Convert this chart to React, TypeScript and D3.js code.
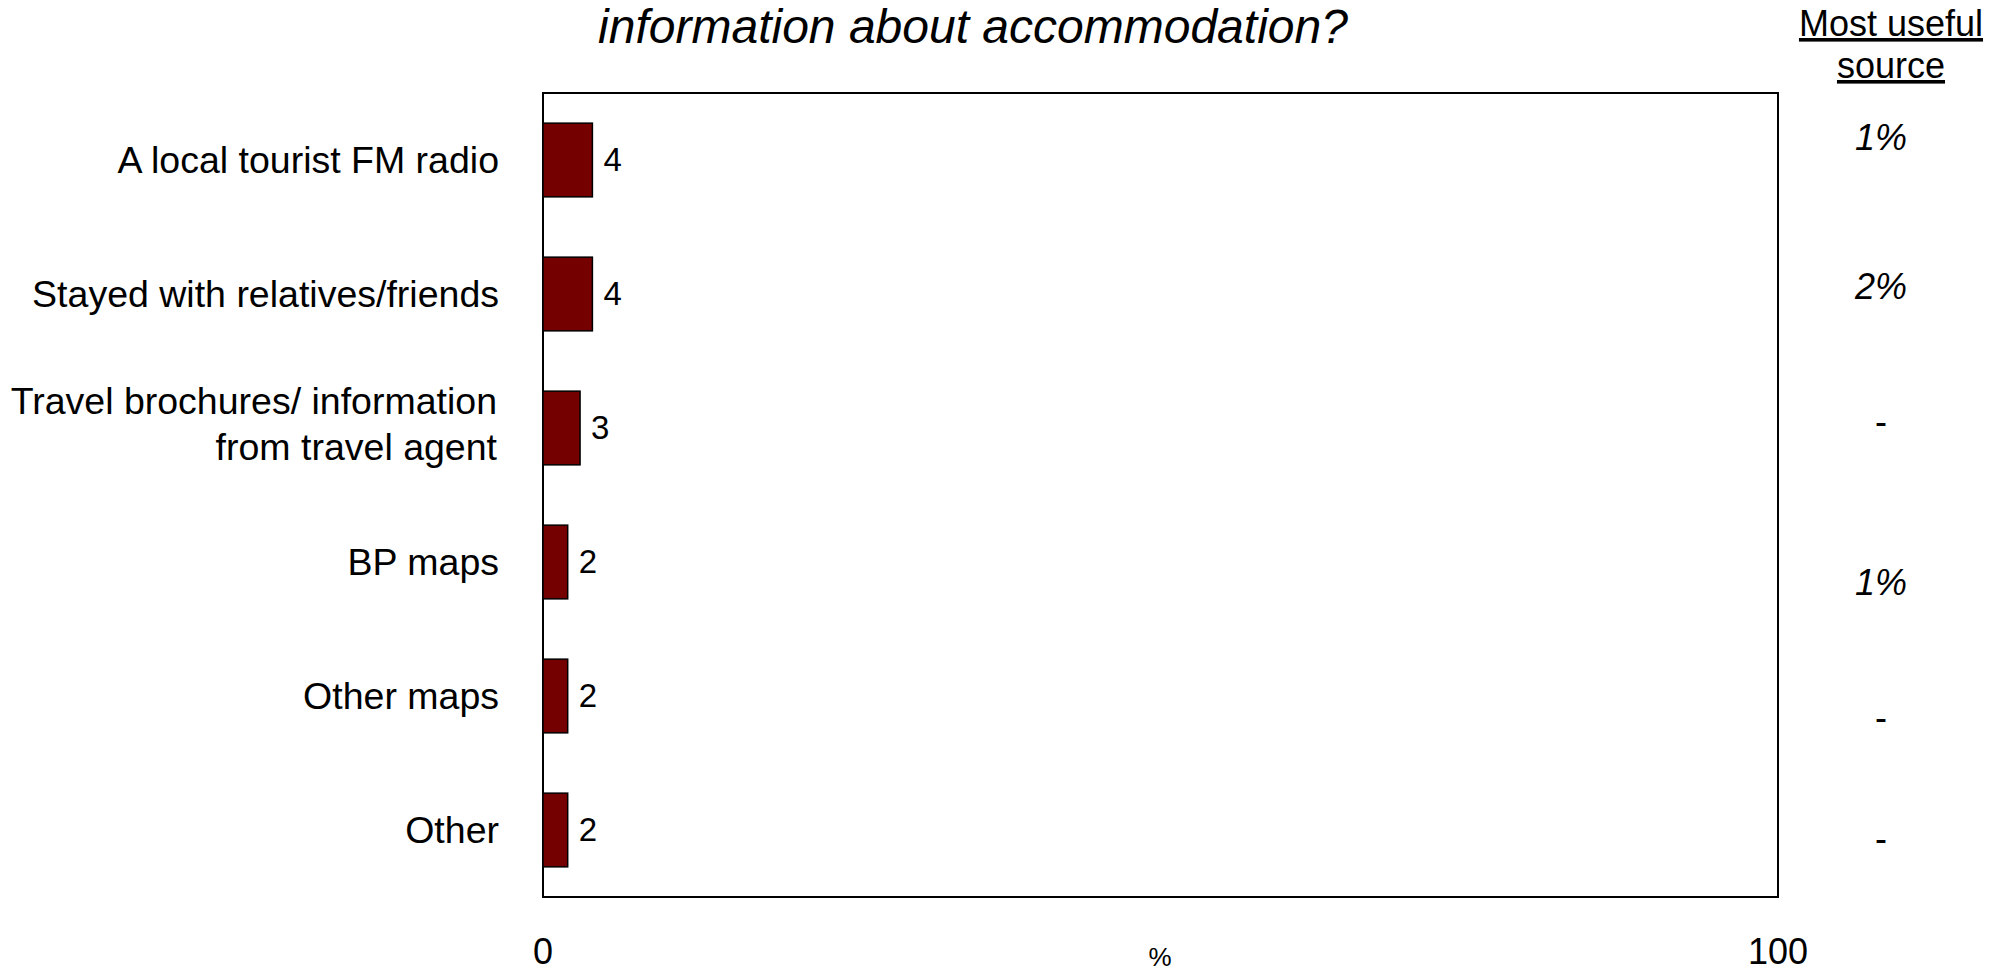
import React from "react";
import * as d3 from "d3";

const categories: string[] = [
  "A local tourist FM radio",
  "Stayed with relatives/friends",
  "Travel brochures/ information\nfrom travel agent",
  "BP maps",
  "Other maps",
  "Other",
];
const values: number[] = [4, 4, 3, 2, 2, 2];
const mostUseful: string[] = ["1%", "2%", "-", "1%", "-", "-"];
const xTicks: number[] = [0, 100];
const titleText = "information about accommodation?";
const sideHeader: string[] = ["Most useful", "source"];
const axisUnit = "%";

// layout constants
const W = 1994;
const H = 972;
const FL = 543;
const FR = 1778;
const FT = 93;
const FB = 897;
const sideOffsets = [-23, -8, -7, 20, 21, 8];
const FONT = "'Liberation Sans', Arial, Helvetica, sans-serif";

export default function App() {
  const x = d3.scaleLinear().domain([0, 100]).range([FL, FR]);
  const y = d3
    .scaleBand<string>()
    .domain(categories)
    .range([FT, FB])
    .paddingInner(0.45)
    .paddingOuter(0.225);
  const bw = y.bandwidth();

  return (
    <svg
      width={W}
      height={H}
      style={{ position: "absolute", left: 0, top: 0, background: "#fff" }}
      fontFamily={FONT}
    >
      <rect x={0} y={0} width={W} height={H} fill="#fff" />
      <text x={973} y={43} fontSize={48} fontStyle="italic" textAnchor="middle" fill="#000">
        {titleText}
      </text>
      {sideHeader.map((t, i) => (
        <text
          key={t}
          x={1891}
          y={36 + i * 42}
          fontSize={36}
          textAnchor="middle"
          textDecoration="underline"
          fill="#000"
        >
          {t}
        </text>
      ))}
      <rect x={FL} y={FT} width={FR - FL} height={FB - FT} fill="none" stroke="#000" strokeWidth={2} />
      {categories.map((c, i) => {
        const cy = (y(c) as number) + bw / 2;
        const lines = c.split("\n");
        return (
          <g key={c}>
            <rect
              x={x(0)}
              y={y(c)}
              width={x(values[i]) - x(0)}
              height={bw}
              fill="#750000"
              stroke="#000"
              strokeWidth={1.5}
            />
            <text x={x(values[i]) + 11} y={cy + 11} fontSize={33} fill="#000">
              {values[i]}
            </text>
            {lines.length === 1 ? (
              <text x={499} y={cy + 13} fontSize={37.5} textAnchor="end" fill="#000">
                {c}
              </text>
            ) : (
              lines.map((l, j) => (
                <text key={l} x={497} y={cy - 14 + j * 46} fontSize={37.5} textAnchor="end" fill="#000">
                  {l}
                </text>
              ))
            )}
            <text
              x={1881}
              y={cy + sideOffsets[i]}
              fontSize={36}
              fontStyle={mostUseful[i] === "-" ? "normal" : "italic"}
              textAnchor="middle"
              dominantBaseline="central"
              fill="#000"
            >
              {mostUseful[i]}
            </text>
          </g>
        );
      })}
      {xTicks.map((t) => (
        <text key={t} x={x(t)} y={964} fontSize={36} textAnchor="middle" fill="#000">
          {t}
        </text>
      ))}
      <text x={1160} y={966} fontSize={26} textAnchor="middle" fill="#000">
        {axisUnit}
      </text>
    </svg>
  );
}
